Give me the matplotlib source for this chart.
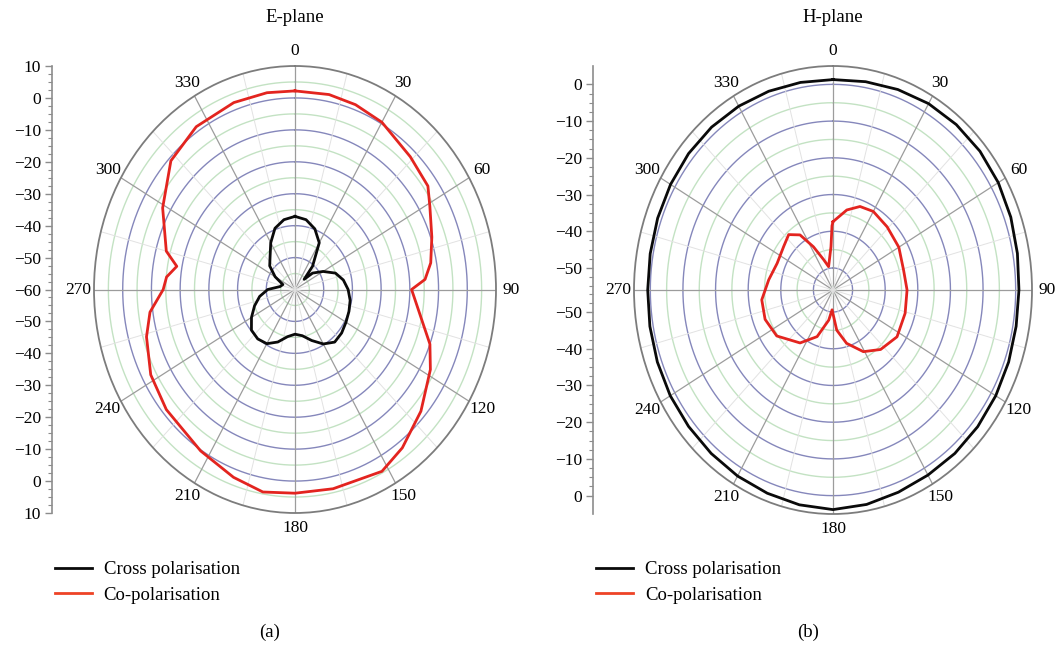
import numpy as np
import matplotlib
matplotlib.use("Agg")
import matplotlib.pyplot as plt
from matplotlib.lines import Line2D

plt.rcParams["font.family"] = ["Liberation Serif", "DejaVu Serif"]

# ---------------- data (dB) ----------------
# E-plane, co-polarisation
e_co_angle = [0, 11, 20, 30, 44, 55, 61, 71, 80, 86, 90, 110, 118, 131, 143, 152,
              168, 180, 190, 200, 213, 230, 242, 254, 262, 270, 275, 280, 285,
              299, 313, 326, 340, 351]
e_co_db = [2.2, 2.2, 1.6, 0.5, -2.2, -3.5, -6.3, -9.6, -12.0, -14.6, -19.4, -10.0,
           -6.6, -1.9, 2.1, 4.5, 3.8, 3.8, 4.4, 2.6, 0.3, -1.5, -3.1, -6.2, -9.0,
           -14.1, -15.1, -18.2, -13.6, -7.3, -0.9, 1.5, 2.3, 2.4]

# E-plane, cross polarisation
e_x_angle = [0, 10, 20, 30, 40, 45, 50, 60, 70, 80, 90, 100, 110, 120, 130, 140,
             150, 160, 170, 180, 190, 200, 210, 220, 230, 240, 250, 260, 270, 280,
             290, 300, 310, 320, 330, 340, 350]
e_x_db = [-37.1, -37.8, -39.8, -43.1, -50.5, -55.5, -52.0, -48.7, -45.0, -42.9,
          -41.5, -40.5, -40.0, -39.5, -38.8, -38.5, -40.3, -43.0, -45.3, -46.0,
          -45.0, -42.5, -40.4, -39.8, -40.2, -42.5, -45.0, -47.5, -50.5, -54.7,
          -55.5, -52.0, -48.5, -46.5, -43.1, -39.6, -37.8]

# H-plane, cross polarisation
h_x_angle = list(range(0, 360, 10))
h_x_db = [1.3, 1.6, 2.1, 2.6, 2.8, 2.8, 2.5, 2.0, 1.4, 1.0, 1.0, 1.3, 1.6, 1.9,
          2.1, 2.2, 2.6, 3.3, 3.8, 3.4, 2.9, 2.5, 2.1, 1.8, 1.6, 1.3, 1.0, 0.8,
          0.9, 1.2, 1.5, 1.8, 1.9, 1.8, 1.6, 1.4]

# H-plane, co-polarisation
h_co_angle = [0, 11, 20, 30, 44, 60, 76, 90, 106, 123, 138, 151, 164, 174, 183,
              189, 201, 215, 234, 249, 263, 278, 293, 308, 318, 326, 333, 341,
              348, 357, 359]
h_co_db = [-37.4, -33.8, -31.8, -31.3, -32.1, -32.7, -33.7, -33.3, -33.0, -32.6,
           -34.2, -36.8, -40.9, -45.0, -50.6, -47.7, -42.4, -38.4, -34.7, -33.7,
           -34.0, -36.1, -37.4, -36.8, -35.7, -37.9, -42.8, -47.3, -49.5, -44.2,
           -38.5]

e_range = (-60, 10)
h_range = (-56, 5)
e_axis_ticks = [10, 0, -10, -20, -30, -40, -50, -60]
h_axis_ticks = [0, -10, -20, -30, -40, -50]
angle_ticks = list(range(0, 360, 30))

series_labels = ["Cross polarisation", "Co-polarisation"]
titles = ["E-plane", "H-plane"]
captions = ["(a)", "(b)"]

# ---------------- styling ----------------
W, H = 1063, 650
BLUE = "#8587bb"
GREEN = "#c3e2c3"
SPOKE = "#9c9c9c"
RIM = "#7c7c7c"
RED = "#e3241f"
BLACK = "#0a0a0a"
FS = 12.5
LW = 2.0

fig = plt.figure(figsize=(W / 100, H / 100), dpi=100)


def box(cx, cy, rx, ry):
    return [(cx - rx) / W, (H - (cy + ry)) / H, 2 * rx / W, 2 * ry / H]


def minus(v):
    return str(v).replace("-", "\u2212")


def closed(a, v):
    a = np.deg2rad(np.append(a, a[0] + 360))
    v = np.append(v, v[0])
    return a, v


def panel(cx, cy, rx, ry, rng, axis_x, axis_ticks, label_center,
          cross, co, title, caption, cap_x):
    rmin, rmax = rng
    ax = fig.add_axes(box(cx, cy, rx, ry), projection="polar")
    ax.set_aspect("auto")
    ax.set_theta_zero_location("N")
    ax.set_theta_direction(-1)
    ax.set_ylim(rmin, rmax)
    ax.set_yticks([])
    ax.set_xticks(np.deg2rad(angle_ticks))
    ax.set_xticklabels([str(a) for a in angle_ticks])
    ax.set_xticks(np.deg2rad(np.arange(15, 360, 30)), minor=True)
    ax.xaxis.grid(True, which="major", color=SPOKE, lw=0.9)
    ax.xaxis.grid(True, which="minor", color="#e2e2e2", lw=0.7)
    ax.tick_params(axis="x", which="major", direction="out", length=5,
                   width=0.9, color=RIM, pad=-1, labelsize=FS)
    ax.tick_params(axis="x", which="minor", direction="in", length=4,
                   width=0.8, color=RIM)
    ax.spines["polar"].set_color(RIM)
    ax.spines["polar"].set_linewidth(1.3)
    ax.set_facecolor("white")

    th = np.linspace(0, 2 * np.pi, 721)
    start = int(np.ceil((rmin + 1e-9) / 5.0)) * 5
    for lev in range(start, rmax, 5):
        col = BLUE if lev % 10 == 0 else GREEN
        ax.plot(th, np.full_like(th, lev), color=col, lw=1.0, zorder=1)

    a, v = closed(*cross)
    ax.plot(a, v, color=BLACK, lw=LW, zorder=5)
    a, v = closed(*co)
    ax.plot(a, v, color=RED, lw=LW, zorder=5)

    # linear dB scale at the left of the polar plot
    span = rmax - rmin
    axl = fig.add_axes([axis_x / W, (H - (cy + ry)) / H, 0.0005, 2 * ry / H])
    axl.set_ylim(-span, span)
    axl.set_xticks([])
    for s in ("top", "right", "bottom"):
        axl.spines[s].set_visible(False)
    axl.spines["left"].set_color("#8c8c8c")
    axl.spines["left"].set_linewidth(1.2)
    pos, lab = [], []
    for t in axis_ticks:
        d = t - rmin
        if d == 0:
            if label_center:
                pos.append(0.0)
                lab.append(minus(t))
            continue
        pos += [d, -d]
        lab += [minus(t), minus(t)]
    axl.set_yticks(pos)
    axl.set_yticklabels(lab)
    minor = []
    for t in np.arange(axis_ticks[0], rmin - 0.1, -2.5):
        d = t - rmin
        minor += [d, -d]
    axl.set_yticks(minor, minor=True)
    axl.tick_params(axis="y", which="major", length=5, width=1.0,
                    color="#8c8c8c", labelsize=FS, pad=3)
    axl.tick_params(axis="y", which="minor", length=3, width=0.8,
                    color="#8c8c8c")

    fig.text(cx / W, 1 - 18 / H, title, ha="center", va="center", fontsize=13.5)
    fig.text(cap_x / W, 1 - 632 / H, caption, ha="center", va="center",
             fontsize=13.5)


panel(295, 289.5, 201, 223.5, e_range, 52, e_axis_ticks, True,
      (e_x_angle, e_x_db), (e_co_angle, e_co_db), titles[0], captions[0], 270)
panel(833, 290, 199, 224, h_range, 593, h_axis_ticks, False,
      (h_x_angle, h_x_db), (h_co_angle, h_co_db), titles[1], captions[1], 808)

handles = [Line2D([], [], color=BLACK, lw=LW), Line2D([], [], color="#ee4326", lw=LW)]
for x0 in (55, 596):
    fig.legend(handles, series_labels, loc="upper left",
               bbox_to_anchor=(x0 / W, 1 - 561 / H), frameon=False,
               fontsize=13.5, handlelength=1.95, handletextpad=0.65,
               labelspacing=0.45, borderpad=0, borderaxespad=0)

fig.savefig("out.png", dpi=100, facecolor="white")
